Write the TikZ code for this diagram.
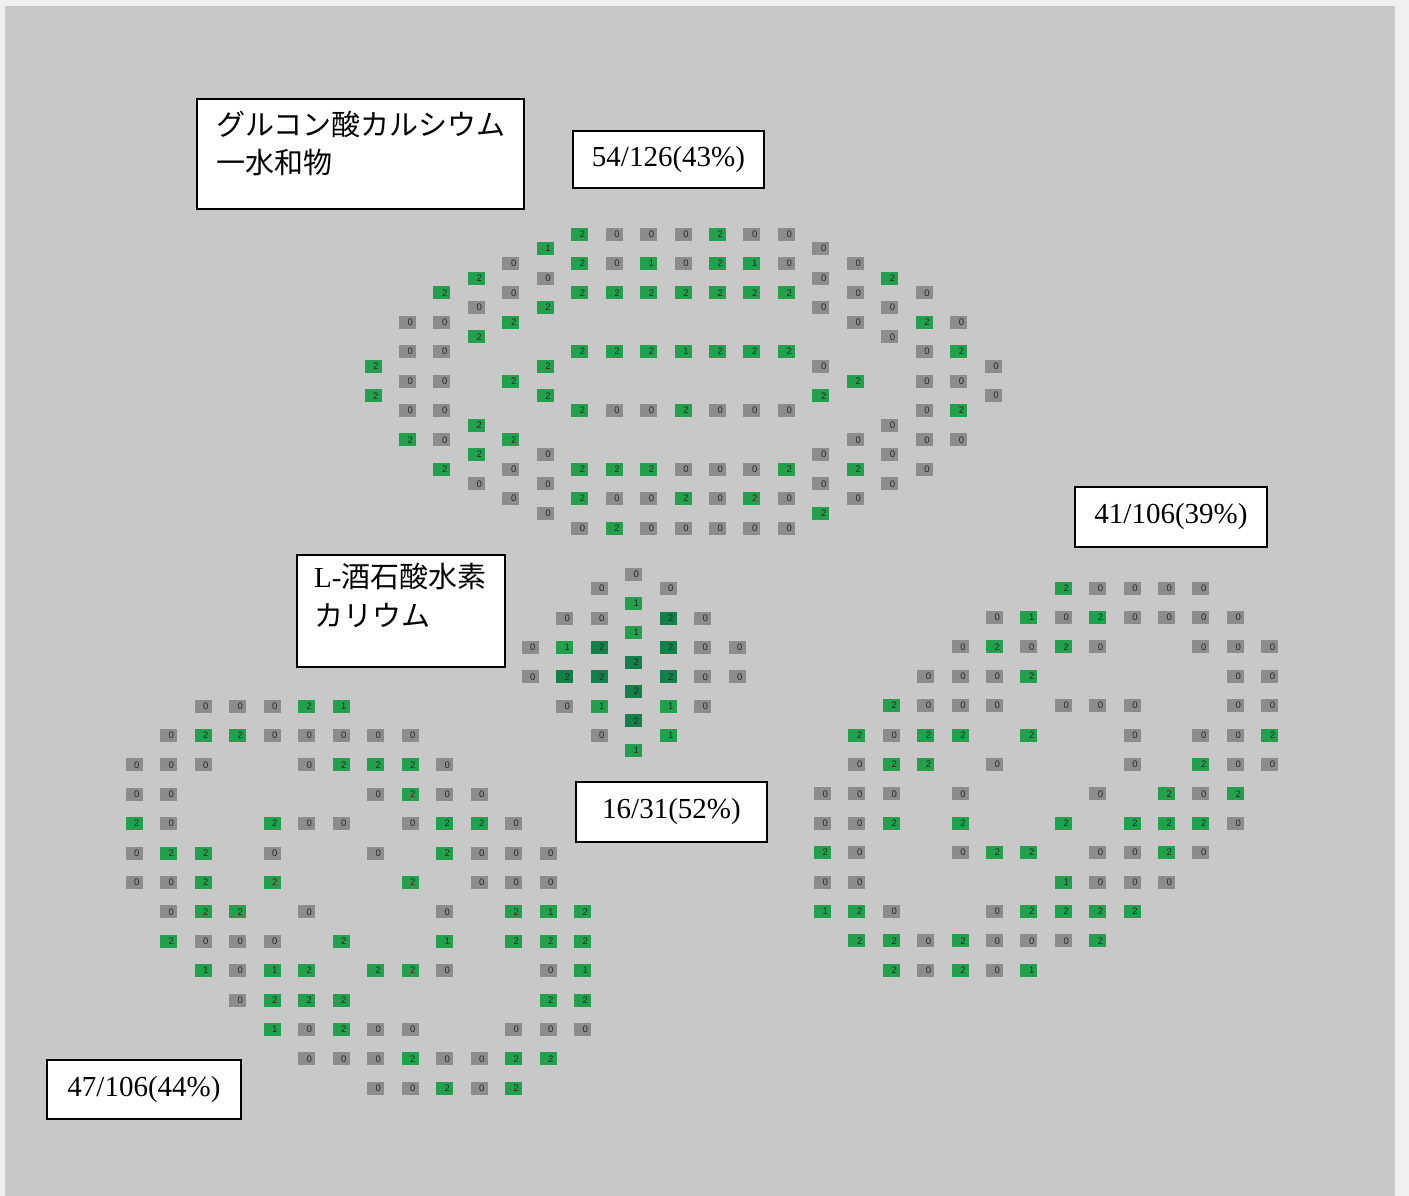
\documentclass[tikz,border=0pt]{standalone}
\usepackage{fontspec}
\setmainfont{Liberation Serif}
\newfontfamily\cjk{Noto Sans CJK JP}
\newfontfamily\cellfont{Liberation Sans}
\definecolor{bgpaper}{RGB}{240,240,240}
\definecolor{bggray}{RGB}{200,200,200}
\definecolor{cellgray}{RGB}{140,140,140}
\definecolor{cellgreen}{RGB}{34,160,76}
\definecolor{celldark}{RGB}{18,128,72}
\definecolor{digitc}{RGB}{40,40,40}
\begin{document}
\begin{tikzpicture}[x=1pt,y=-1pt,
  cell/.style={minimum width=17pt,minimum height=13pt,inner sep=0pt,text=digitc,
    font=\cellfont\fontsize{9.5}{10}\selectfont},
  v0/.style={cell,fill=cellgray},
  v1/.style={cell,fill=cellgreen},
  v2/.style={cell,fill=cellgreen},
  m0/.style={cell,fill=cellgray},
  m1/.style={cell,fill=cellgreen},
  m2/.style={cell,fill=celldark},
  box/.style={draw=black,line width=1.4pt,fill=white,inner sep=0pt},
  num/.style={font=\fontsize{29}{32}\selectfont},
  jp/.style={font=\fontsize{29}{30}\selectfont,inner sep=0pt,anchor=base west}]
\useasboundingbox (0,0) rectangle (1409,1196);
\fill[bgpaper] (0,0) rectangle (1409,1196);
\fill[bggray] (5,6) rectangle (1395,1196);

% top cluster
\foreach \i/\j/\v in {6/0/2,7/0/0,8/0/0,9/0/0,10/0/2,11/0/0,12/0/0,
 5/1/1,13/1/0,
 4/2/0,6/2/2,7/2/0,8/2/1,9/2/0,10/2/2,11/2/1,12/2/0,14/2/0,
 3/3/2,5/3/0,13/3/0,15/3/2,
 2/4/2,4/4/0,6/4/2,7/4/2,8/4/2,9/4/2,10/4/2,11/4/2,12/4/2,14/4/0,16/4/0,
 3/5/0,5/5/2,13/5/0,15/5/0,
 1/6/0,2/6/0,4/6/2,14/6/0,16/6/2,17/6/0,
 3/7/2,15/7/0,
 1/8/0,2/8/0,6/8/2,7/8/2,8/8/2,9/8/1,10/8/2,11/8/2,12/8/2,16/8/0,17/8/2,
 0/9/2,5/9/2,13/9/0,18/9/0,
 1/10/0,2/10/0,4/10/2,14/10/2,16/10/0,17/10/0,
 0/11/2,5/11/2,13/11/2,18/11/0,
 1/12/0,2/12/0,6/12/2,7/12/0,8/12/0,9/12/2,10/12/0,11/12/0,12/12/0,16/12/0,17/12/2,
 3/13/2,15/13/0,
 1/14/2,2/14/0,4/14/2,14/14/0,16/14/0,17/14/0,
 3/15/2,5/15/0,13/15/0,15/15/0,
 2/16/2,4/16/0,6/16/2,7/16/2,8/16/2,9/16/0,10/16/0,11/16/0,12/16/2,14/16/2,16/16/0,
 3/17/0,5/17/0,13/17/0,15/17/0,
 4/18/0,6/18/2,7/18/0,8/18/0,9/18/2,10/18/0,11/18/2,12/18/0,14/18/0,
 5/19/0,13/19/2,
 6/20/0,7/20/2,8/20/0,9/20/0,10/20/0,11/20/0,12/20/0}
 \node[v\v] (T-\i-\j) at ({373+34.45*\i},{234+14.7*\j}) {\makebox[17pt][r]{\v\hspace{3pt}}};

% middle cluster
\foreach \i/\j/\v in {3/0/0,
 2/1/0,4/1/0,
 3/2/1,
 1/3/0,2/3/0,4/3/2,5/3/0,
 3/4/1,
 0/5/0,1/5/1,2/5/2,4/5/2,5/5/0,6/5/0,
 3/6/2,
 0/7/0,1/7/2,2/7/2,4/7/2,5/7/0,6/7/0,
 3/8/2,
 1/9/0,2/9/1,4/9/1,5/9/0,
 3/10/2,
 2/11/0,4/11/1,
 3/12/1}
 \node[m\v] (M-\i-\j) at ({530+34.5*\i},{574+14.68*\j}) {\makebox[17pt][r]{\v\hspace{3pt}}};

% bottom-left cluster
\foreach \c/\r/\v in {2/0/0,3/0/0,4/0/0,5/0/2,6/0/1,
 1/1/0,2/1/2,3/1/2,4/1/0,5/1/0,6/1/0,7/1/0,8/1/0,
 0/2/0,1/2/0,2/2/0,5/2/0,6/2/2,7/2/2,8/2/2,9/2/0,
 0/3/0,1/3/0,7/3/0,8/3/2,9/3/0,10/3/0,
 0/4/2,1/4/0,4/4/2,5/4/0,6/4/0,8/4/0,9/4/2,10/4/2,11/4/0,
 0/5/0,1/5/2,2/5/2,4/5/0,7/5/0,9/5/2,10/5/0,11/5/0,12/5/0,
 0/6/0,1/6/0,2/6/2,4/6/2,8/6/2,10/6/0,11/6/0,12/6/0,
 1/7/0,2/7/2,3/7/2,5/7/0,9/7/0,11/7/2,12/7/1,13/7/2,
 1/8/2,2/8/0,3/8/0,4/8/0,6/8/2,9/8/1,11/8/2,12/8/2,13/8/2,
 2/9/1,3/9/0,4/9/1,5/9/2,7/9/2,8/9/2,9/9/0,12/9/0,13/9/1,
 3/10/0,4/10/2,5/10/2,6/10/2,12/10/2,13/10/2,
 4/11/1,5/11/0,6/11/2,7/11/0,8/11/0,11/11/0,12/11/0,13/11/0,
 5/12/0,6/12/0,7/12/0,8/12/2,9/12/0,10/12/0,11/12/2,12/12/2,
 7/13/0,8/13/0,9/13/2,10/13/0,11/13/2}
 \node[v\v] (B-\c-\r) at ({134+34.5*\c},{706+29.4*\r}) {\makebox[17pt][r]{\v\hspace{3pt}}};

% right cluster
\foreach \c/\r/\v in {7/0/2,8/0/0,9/0/0,10/0/0,11/0/0,
 5/1/0,6/1/1,7/1/0,8/1/2,9/1/0,10/1/0,11/1/0,12/1/0,
 4/2/0,5/2/2,6/2/0,7/2/2,8/2/0,11/2/0,12/2/0,13/2/0,
 3/3/0,4/3/0,5/3/0,6/3/2,12/3/0,13/3/0,
 2/4/2,3/4/0,4/4/0,5/4/0,7/4/0,8/4/0,9/4/0,12/4/0,13/4/0,
 1/5/2,2/5/0,3/5/2,4/5/2,6/5/2,9/5/0,11/5/0,12/5/0,13/5/2,
 1/6/0,2/6/2,3/6/2,5/6/0,9/6/0,11/6/2,12/6/0,13/6/0,
 0/7/0,1/7/0,2/7/0,4/7/0,8/7/0,10/7/2,11/7/0,12/7/2,
 0/8/0,1/8/0,2/8/2,4/8/2,7/8/2,9/8/2,10/8/2,11/8/2,12/8/0,
 0/9/2,1/9/0,4/9/0,5/9/2,6/9/2,8/9/0,9/9/0,10/9/2,11/9/0,
 0/10/0,1/10/0,7/10/1,8/10/0,9/10/0,10/10/0,
 0/11/1,1/11/2,2/11/0,5/11/0,6/11/2,7/11/2,8/11/2,9/11/2,
 1/12/2,2/12/2,3/12/0,4/12/2,5/12/0,6/12/0,7/12/0,8/12/2,
 2/13/2,3/13/0,4/13/2,5/13/0,6/13/1}
 \node[v\v] (R-\c-\r) at ({822.5+34.4*\c},{588+29.4*\r}) {\makebox[17pt][r]{\v\hspace{3pt}}};

% label boxes
\node[box,minimum width=327pt,minimum height=110pt] (boxA) at (360.5,154) {};
\node[jp] (boxAl1) at (216,136) {\cjk グルコン酸カルシウム};
\node[jp] (boxAl2) at (216,174) {\cjk 一水和物};

\node[box,num,minimum width=191pt,minimum height=57pt] (boxB) at (668.5,159.5) {54/126(43\%)};
\node[box,num,minimum width=192pt,minimum height=60pt] (boxC) at (1171,517) {41/106(39\%)};

\node[box,minimum width=208pt,minimum height=112pt] (boxD) at (401,611) {};
\node[jp] (boxDl1) at (314,587) {L-\cjk 酒石酸水素};
\node[jp] (boxDl2) at (314,626) {\cjk カリウム};

\node[box,num,minimum width=191pt,minimum height=60pt] (boxE) at (671.5,812) {16/31(52\%)};
\node[box,num,minimum width=194pt,minimum height=59pt] (boxF) at (144,1089.5) {47/106(44\%)};
\end{tikzpicture}
\end{document}
